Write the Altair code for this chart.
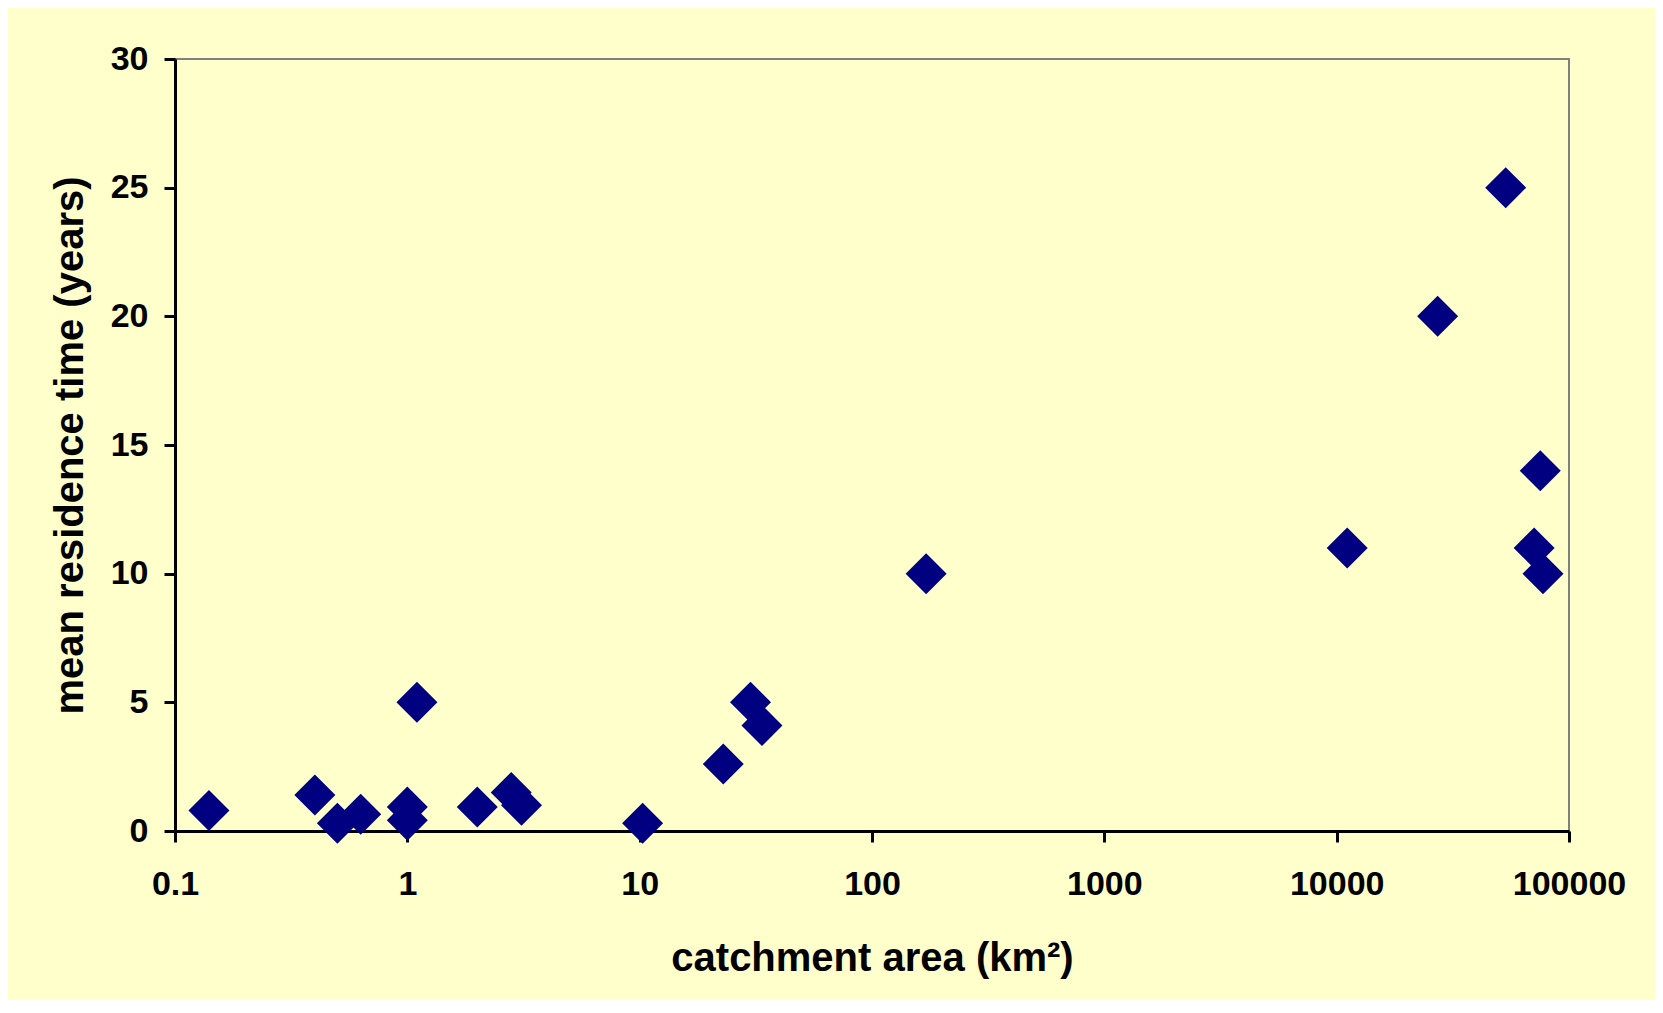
import altair as alt
import pandas as pd

# catchment area (km^2) and mean residence time (years)
area = [0.14, 0.40, 0.50, 0.63, 1.0, 1.0, 1.1, 2.0, 2.8, 3.1,
        10.3, 22.9, 30.0, 33.6, 171.0,
        11100, 27200, 53400, 75200, 70800, 77300]
mrt = [0.8, 1.4, 0.3, 0.65, 0.93, 0.42, 5.0, 0.93, 1.5, 1.0,
       0.3, 2.6, 5.0, 4.1, 10.0,
       11.0, 20.0, 25.0, 14.0, 11.0, 10.0]

x_ticks = [0.1, 1, 10, 100, 1000, 10000, 100000]
y_ticks = [0, 5, 10, 15, 20, 25, 30]

df = pd.DataFrame({"area": area, "mrt": mrt})

FONT = "Liberation Sans"

chart = alt.Chart(df).mark_point(
    shape="diamond", filled=True, color="#000080", opacity=1, size=1680
).encode(
    x=alt.X("area:Q",
            scale=alt.Scale(type="log", domain=[0.1, 100000], nice=False),
            axis=alt.Axis(values=x_ticks,
                          labelExpr="datum.value < 1 ? format(datum.value, '.1f') : format(datum.value, 'd')",
                          title="catchment area (km²)",
                          labelPadding=25,
                          titleY=139, titleBaseline="alphabetic")),
    y=alt.Y("mrt:Q",
            scale=alt.Scale(domain=[0, 30], nice=False),
            axis=alt.Axis(values=y_ticks,
                          title="mean residence time (years)",
                          labelPadding=16,
                          titleX=-93, titleBaseline="alphabetic", titleAngle=270)),
).properties(
    width=1394, height=772,
    background="#FFFFCC",
    padding={"left": 167, "top": 51, "right": 86, "bottom": 169},
    autosize=alt.AutoSizeParams(type="none"),
).configure_view(
    stroke="#808080", strokeWidth=2, fill="#FFFFCC"
).configure_axis(
    grid=False,
    domainColor="black", domainWidth=3,
    tickColor="black", tickWidth=3, tickSize=11,
    labelFont=FONT, labelFontSize=34, labelFontWeight="bold", labelColor="black",
    titleFont=FONT, titleFontSize=40, titleFontWeight="bold", titleColor="black",
    labelFlush=False, labelOverlap=False,
)

chart.save("out.html", embed_options={"renderer": "svg", "actions": False})
